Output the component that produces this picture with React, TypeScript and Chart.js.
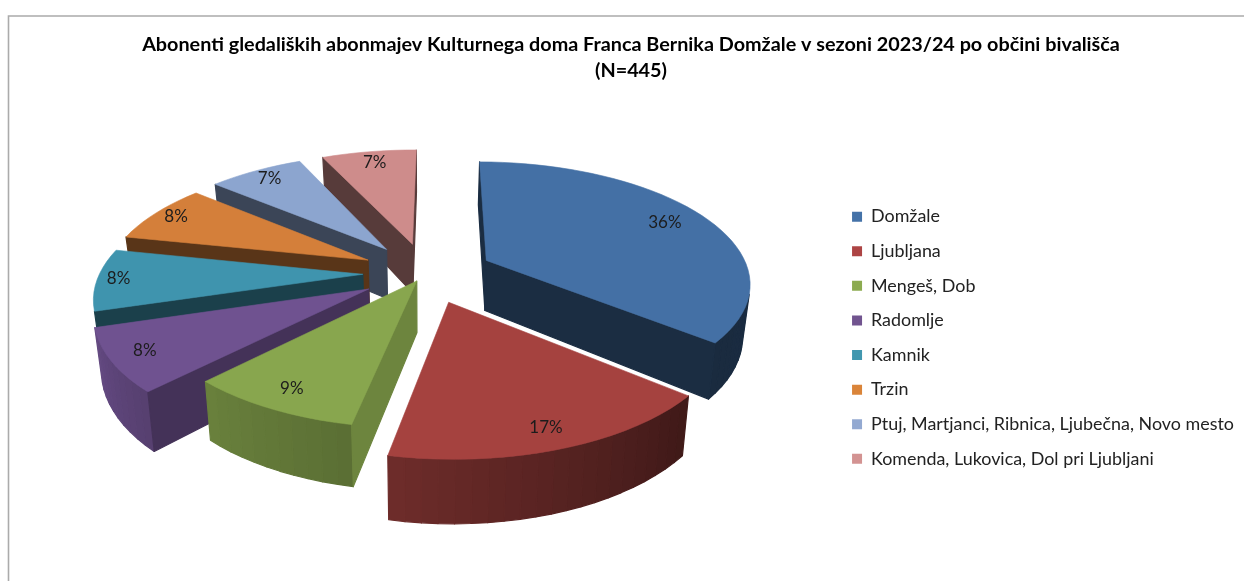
import React, { useEffect, useRef } from "react";
import { Chart, registerables } from "chart.js";

Chart.register(...registerables);

const categories = [
  "Domžale",
  "Ljubljana",
  "Mengeš, Dob",
  "Radomlje",
  "Kamnik",
  "Trzin",
  "Ptuj, Martjanci, Ribnica, Ljubečna, Novo mesto",
  "Komenda, Lukovica, Dol pri Ljubljani",
];
const subscribers = [160, 76, 40, 36, 36, 35, 31, 31];
const sliceColors = ["#4470A5", "#A5423F", "#88A64E", "#6F5290", "#3F94AE", "#D47F3A", "#8CA5CF", "#CE8C8B"];
const legendColors = ["#4472A8", "#AD4444", "#8CAB50", "#71548F", "#4197AF", "#DA8439", "#93A9D1", "#D39392"];
const explosion = [0.257, 0.25, 0.075, 0.25, 0.24, 0.25, 0.257, 0.257];
const radialShade = [0.4, 0.4, 0.8, 0.61, 0.43, 0.42, 0.42, 0.42];
const labelRadius = [0.82, 0.88, 0.87, 0.88, 0.92, 0.9, 0.88, 0.85];
const titleLines = [
  "Abonenti gledaliških abonmajev Kulturnega doma Franca Bernika Domžale v sezoni 2023/24 po občini bivališča",
  "(N=445)",
];
const lightAngles = [0, 90, 130, 190, 225, 252, 282, 360];
const lightValues = [0.4, 0.4, 0.38, 0.66, 0.78, 0.9, 0.95, 0.95];

// Camera of the tilted pie
const CAM = { cx: 426, cy: 273, vy: -430, a: 263, d: 5.9, h: 51, shrink: 0.977 };

type P = { x: number; y: number };

function project(wx: number, wy: number, low: boolean): P {
  const s = CAM.d / (CAM.d + wy);
  const x = CAM.cx + CAM.a * wx * s;
  const y = CAM.vy + (CAM.cy - CAM.vy) * s;
  if (!low) return { x, y };
  return { x: CAM.cx + (x - CAM.cx) * CAM.shrink, y: y + CAM.h * s };
}

function shade(hex: string, f: number): string {
  const n = parseInt(hex.slice(1), 16);
  const c = [(n >> 16) & 255, (n >> 8) & 255, n & 255].map((v) => Math.round(v * f));
  return `rgb(${c[0]},${c[1]},${c[2]})`;
}

function light(deg: number): number {
  for (let i = 1; i < lightAngles.length; i++) {
    if (deg <= lightAngles[i]) {
      const t = (deg - lightAngles[i - 1]) / (lightAngles[i] - lightAngles[i - 1]);
      return lightValues[i - 1] + t * (lightValues[i] - lightValues[i - 1]);
    }
  }
  return lightValues[lightValues.length - 1];
}

function fillPoly(ctx: CanvasRenderingContext2D, pts: P[], color: string, stroke: number) {
  ctx.beginPath();
  pts.forEach((p, i) => (i ? ctx.lineTo(p.x, p.y) : ctx.moveTo(p.x, p.y)));
  ctx.closePath();
  ctx.fillStyle = color;
  ctx.strokeStyle = color;
  ctx.lineWidth = stroke;
  ctx.lineJoin = "round";
  ctx.fill();
  ctx.stroke();
}

function area(p: P[]): number {
  let s = 0;
  for (let i = 0; i < p.length; i++) {
    const q = p[(i + 1) % p.length];
    s += p[i].x * q.y - q.x * p[i].y;
  }
  return s;
}

const tiltedPie = {
  id: "tiltedPie",
  beforeDraw(chart: any) {
    const { ctx } = chart;
    ctx.save();
    ctx.fillStyle = "#ffffff";
    ctx.fillRect(0, 0, chart.width, chart.height);
    ctx.strokeStyle = "#ABABAB";
    ctx.lineWidth = 1.6;
    ctx.beginPath();
    ctx.moveTo(8.5, chart.height);
    ctx.lineTo(8.5, 16);
    ctx.lineTo(chart.width, 16);
    ctx.stroke();
    ctx.restore();
  },
  beforeDatasetsDraw(chart: any) {
    const { ctx } = chart;
    const arcs = chart.getDatasetMeta(0).data;
    const total = subscribers.reduce((a, b) => a + b, 0);
    const slices = arcs.map((arc: any, i: number) => {
      const t1 = arc.startAngle + Math.PI / 2;
      const t2 = arc.endAngle + Math.PI / 2;
      const mid = (t1 + t2) / 2;
      const e = explosion[i];
      return { i, t1, t2, mid, e, ox: e * Math.sin(mid), oy: e * Math.cos(mid) };
    });
    slices.sort((a: any, b: any) => (b.e + 0.5) * Math.cos(b.mid) - (a.e + 0.5) * Math.cos(a.mid));
    ctx.save();
    slices.forEach((sl: any) => {
      const color = sliceColors[sl.i];
      const n = Math.max(6, Math.ceil(((sl.t2 - sl.t1) * 180) / Math.PI / 3));
      const rim: { wx: number; wy: number; deg: number }[] = [];
      for (let k = 0; k <= n; k++) {
        const t = sl.t1 + ((sl.t2 - sl.t1) * k) / n;
        rim.push({ wx: sl.ox + Math.sin(t), wy: sl.oy + Math.cos(t), deg: (t * 180) / Math.PI });
      }
      const wall = (a: { wx: number; wy: number }, b: { wx: number; wy: number }, col: string) => {
        const q = [
          project(a.wx, a.wy, false),
          project(b.wx, b.wy, false),
          project(b.wx, b.wy, true),
          project(a.wx, a.wy, true),
        ];
        if (area(q) < 0) fillPoly(ctx, q, col, 1.2);
      };
      const apex = { wx: sl.ox, wy: sl.oy };
      const rad = shade(color, radialShade[sl.i]);
      for (let k = 0; k < n; k++) {
        wall(rim[k], rim[k + 1], shade(color, light((rim[k].deg + rim[k + 1].deg) / 2)));
      }
      wall(apex, rim[0], rad);
      wall(rim[n], apex, rad);
      const top = [project(apex.wx, apex.wy, false), ...rim.map((r) => project(r.wx, r.wy, false))];
      fillPoly(ctx, top, color, 0.6);
    });
    ctx.fillStyle = "#1c1c1c";
    ctx.font = "17px Lato";
    ctx.textAlign = "center";
    ctx.textBaseline = "middle";
    slices.forEach((sl: any) => {
      const r = labelRadius[sl.i];
      const p = project(sl.ox + r * Math.sin(sl.mid), sl.oy + r * Math.cos(sl.mid), false);
      ctx.fillText(`${Math.round((subscribers[sl.i] / total) * 100)}%`, p.x, p.y - 1);
    });
    ctx.restore();
    return false;
  },
};

export default function App() {
  const ref = useRef<HTMLCanvasElement>(null);
  useEffect(() => {
    const chart = new Chart(ref.current as HTMLCanvasElement, {
      type: "pie",
      data: {
        labels: categories,
        datasets: [{ data: subscribers, backgroundColor: legendColors, borderWidth: 0 }],
      },
      options: {
        responsive: false,
        animation: false,
        rotation: 0.5,
        layout: { padding: { left: 18, right: 0, top: 31, bottom: 0 } },
        plugins: {
          tooltip: { enabled: false },
          title: {
            display: true,
            text: titleLines,
            color: "#000000",
            font: { family: "Lato", size: 19.8, weight: "bold", lineHeight: 1.35 },
            padding: { top: 0, bottom: 10 },
          },
          legend: {
            position: "right",
            fullSize: false,
            labels: {
              boxWidth: 10,
              boxHeight: 10,
              padding: 16.7,
              color: "#222222",
              font: { family: "Lato", size: 17.9 },
            },
          },
        },
      },
      plugins: [tiltedPie],
    } as any);
    return () => chart.destroy();
  }, []);
  return (
    <div style={{ position: "absolute", left: 0, top: 0, width: 1244, height: 581 }}>
      <canvas ref={ref} width={1244} height={581} style={{ display: "block" }} />
    </div>
  );
}
